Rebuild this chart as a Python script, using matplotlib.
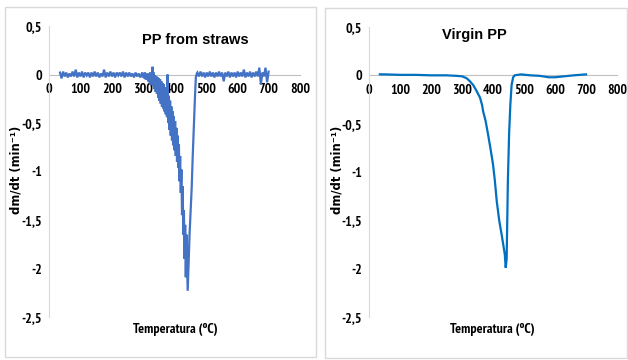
"""
DTG curves: PP from straws vs virgin PP (dm/dt against temperature).
"""

import matplotlib
matplotlib.use("Agg")
import matplotlib.pyplot as plt
import numpy as np
from matplotlib import font_manager
from matplotlib.patches import Rectangle

# ---------------------------------------------------------------------------
# Data
# ---------------------------------------------------------------------------

# PP from straws -- noisy trace, split in four stretches
straws_flat_pre = [0.02, -0.04, 0.03, -0.02, 0.02, -0.03, 0.01, -0.02, 0.03, -0.02,
                   0.05, -0.03, 0.02, -0.02, 0.03, -0.03, 0.02, -0.01, 0.02, -0.03,
                   0.02, -0.02, 0.03, -0.02, 0.02, -0.03, 0.01, -0.02, 0.05, -0.03,
                   0.02, -0.02, 0.03, -0.02, 0.02, -0.03, 0.02, -0.01, 0.02, -0.02,
                   0.03, -0.03, 0.02, -0.02, 0.02, -0.02, 0.01, -0.03, 0.02, -0.02,
                   0.01, -0.03, 0.01]
straws_decline_t = [298, 300, 302, 304, 306, 308, 310, 312, 314, 316, 318, 320, 322,
                    324, 326, 328, 330, 332, 334, 336, 338, 340, 342, 344, 346, 348,
                    350, 352, 354, 356, 358, 360, 362, 364, 366, 368, 370, 372, 374,
                    376, 378, 380, 382, 384, 386, 388, 390, 392, 394, 396, 398, 400,
                    402, 404, 406, 408, 410, 412, 414, 416, 418, 420, 422, 424, 426,
                    428, 430, 432, 434, 436, 438, 440, 442]
straws_decline = [0.02, -0.03, 0.01, -0.04, 0.02, -0.05, 0.0, -0.05, 0.01, -0.07,
                  -0.01, -0.08, 0.02, -0.1, 0.0, -0.11, 0.08, -0.12, 0.02, -0.15,
                  -0.01, -0.18, -0.02, -0.2, -0.03, -0.24, -0.04, -0.27, -0.05, -0.3,
                  -0.07, -0.33, -0.09, -0.35, -0.1, -0.38, -0.13, -0.41, -0.16, -0.44,
                  0.0, -0.5, -0.22, -0.57, -0.27, -0.63, -0.33, -0.68, -0.38, -0.73,
                  -0.43, -0.78, -0.48, -0.84, -0.55, -0.9, -0.63, -0.96, -0.72, -1.1,
                  -0.84, -1.22, -0.98, -1.45, -1.15, -1.65, -1.4, -1.9, -1.55, -2.09,
                  -1.65, -1.95, -2.23]
straws_rise_t = [445, 448, 452, 455, 458, 462, 465, 468, 471]
straws_rise = [-1.95, -1.65, -1.35, -1.15, -0.85, -0.5, -0.25, -0.03, 0.01]
straws_flat_post = [0.02, -0.02, 0.03, -0.02, 0.02, -0.03, 0.02, -0.02, 0.03, -0.02,
                    0.02, -0.03, 0.02, -0.02, 0.03, -0.02, 0.02, -0.07, 0.02, -0.02,
                    0.03, -0.03, 0.02, -0.02, 0.02, -0.03, 0.03, -0.02, 0.02, -0.02,
                    0.05, -0.03, 0.02, -0.02, 0.03, -0.03, 0.02, -0.02, 0.03, -0.02,
                    0.07, -0.1, 0.02, -0.02, 0.07, -0.08, 0.03]

# Virgin PP -- smooth trace
virgin_t = [35, 50, 100, 150, 200, 250, 280, 300, 315, 325, 336, 345, 358, 365, 368,
            372, 376, 384, 392, 400, 406, 412, 420, 428, 433, 438, 441, 444, 446, 448,
            452, 456, 460, 465, 470, 490, 520, 550, 580, 600, 630, 660, 700]
virgin = [0.01, 0.01, 0.005, 0.005, 0.0, 0.0, -0.005, -0.01, -0.03, -0.06, -0.1,
          -0.15, -0.23, -0.31, -0.37, -0.42, -0.47, -0.61, -0.76, -0.92, -1.09, -1.3,
          -1.5, -1.65, -1.75, -1.85, -1.99, -1.9, -1.5, -1.09, -0.6, -0.3, -0.1,
          -0.02, 0.0, 0.01, 0.0, -0.005, -0.02, -0.02, -0.01, 0.0, 0.01]

x_ticks = [0, 100, 200, 300, 400, 500, 600, 700, 800]
y_ticks = [0.5, 0, -0.5, -1, -1.5, -2, -2.5]
y_tick_labels = ["0,5", "0", "-0,5", "-1", "-1,5", "-2", "-2,5"]

# ---------------------------------------------------------------------------
# Fonts: look for a narrow face for the Excel-like tick labels
# ---------------------------------------------------------------------------

def find_narrow():
    fonts = font_manager.fontManager.ttflist
    for f in fonts:
        if "Narrow" in f.name and f.weight in (700, "bold"):
            return font_manager.FontProperties(fname=f.fname)
    for f in fonts:
        if "Narrow" in f.name or "Condensed" in f.name:
            return font_manager.FontProperties(fname=f.fname, weight="bold")
    for f in fonts:
        if str(f.stretch) in ("condensed", "semi-condensed", "375", "500") \
                and f.weight in (700, "bold"):
            return font_manager.FontProperties(fname=f.fname)
    for f in fonts:
        if str(f.stretch) in ("condensed", "semi-condensed"):
            return font_manager.FontProperties(fname=f.fname)
    return None


_narrow = find_narrow()
SANS = ["Liberation Sans", "DejaVu Sans"]


def narrow_props(size):
    if _narrow is not None:
        p = _narrow.copy()
        p.set_size(size)
        return p
    return font_manager.FontProperties(family="Liberation Sans", size=size - 1)


W, H = 628, 360
fig = plt.figure(figsize=(W / 100, H / 100), dpi=100)


def px_box(x0, y0, x1, y1):
    """pixel box (top-left origin) -> figure fraction rect"""
    return [x0 / W, 1 - y1 / H, (x1 - x0) / W, (y1 - y0) / H]


def panel(rect, x_title, title_y, ylab_x, t, v, color, title):
    ax = fig.add_axes(rect)
    ax.plot(t, v, color=color, lw=1.6, solid_joinstyle="miter")
    ax.set_xlim(0, 800)
    ax.set_ylim(-2.5, 0.5)
    ax.set_xticks(x_ticks)
    ax.set_yticks(y_ticks)
    ax.set_yticklabels(y_tick_labels)
    for s in ("top", "right"):
        ax.spines[s].set_visible(False)
    ax.spines["left"].set_color("#D9D9D9")
    ax.spines["bottom"].set_position(("data", 0))
    ax.spines["bottom"].set_color("#BFBFBF")
    ax.spines["bottom"].set_zorder(0)
    ax.tick_params(length=0, colors="black")
    ax.tick_params(axis="x", pad=6)
    ax.tick_params(axis="y", pad=5)
    for lab in ax.get_xticklabels() + ax.get_yticklabels():
        lab.set_fontproperties(narrow_props(10))
    ax.patch.set_alpha(0)
    fig.text(x_title, title_y, title, ha="center", va="center",
             fontsize=10.5, fontweight="bold", family=SANS)
    fig.text(ylab_x, 1 - 170 / H, "dm/dt (min⁻¹)", rotation=90,
             ha="center", va="center", fontsize=8.4, fontweight="bold",
             family=["DejaVu Sans"])
    return ax


# panel frames
fig.patches.append(Rectangle((5 / W, 1 - 357 / H), 311 / W, 350 / H,
                             transform=fig.transFigure, fill=False,
                             edgecolor="#D9D9D9", lw=1))
fig.patches.append(Rectangle((324.5 / W, 1 - 357.5 / H), 302 / W, 350 / H,
                             transform=fig.transFigure, fill=False,
                             edgecolor="#D9D9D9", lw=1))

straws_t = np.concatenate([np.linspace(35, 296, len(straws_flat_pre)), straws_decline_t,
                           straws_rise_t, np.linspace(473, 700, len(straws_flat_post))])
straws_v = np.concatenate([straws_flat_pre, straws_decline, straws_rise, straws_flat_post])

panel(px_box(49, 26, 300, 317), 195 / W, 1 - 40 / H, 16.5 / W,
      straws_t, straws_v, "#4472C4", "PP from straws")
panel(px_box(369, 27, 617, 317), 474 / W, 1 - 35 / H, 337.5 / W,
      virgin_t, virgin, "#0070C0", "Virgin PP")

for xc, yc in ((175, 329), (492, 330)):
    fig.text(xc / W, 1 - yc / H, "Temperatura (ºC)", ha="center", va="center",
             fontproperties=narrow_props(10))

fig.savefig("out.png", dpi=100)
